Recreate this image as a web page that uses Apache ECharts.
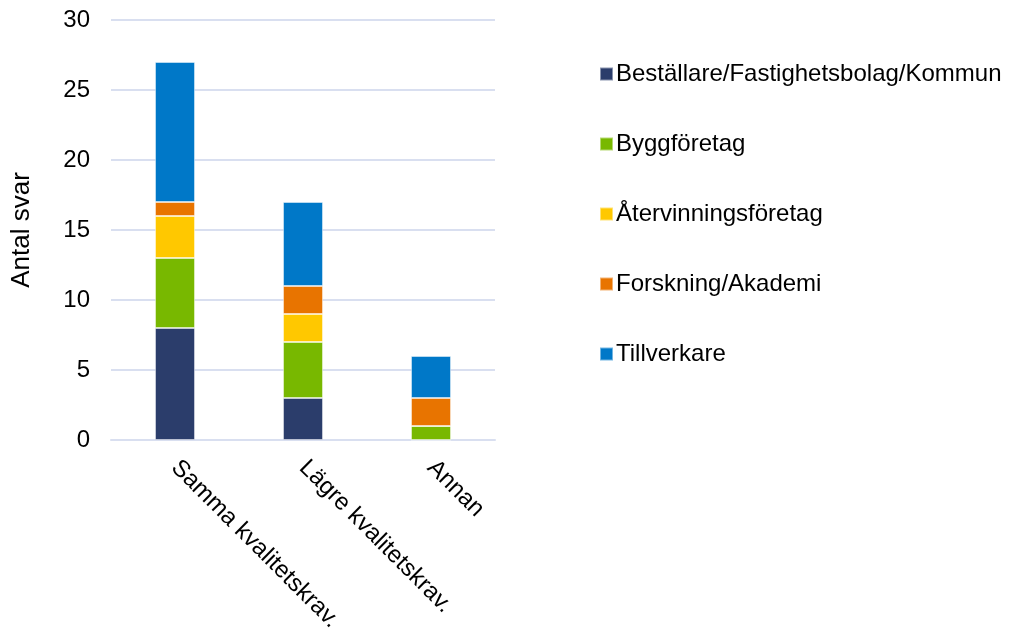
<!DOCTYPE html>
<html>
<head>
<meta charset="utf-8">
<title>Antal svar</title>
<script src="https://cdn.jsdelivr.net/npm/echarts@6/dist/echarts.min.js"></script>
<style>
  html, body { margin: 0; padding: 0; background: #fff; }
  #chart { width: 1009px; height: 632px; }
</style>
</head>
<body>
<div id="chart"></div>
<script>
// Categories on the x axis
const categories = ['Samma kvalitetskrav.', 'Lägre kvalitetskrav.', 'Annan'];

// Respondent groups (stacked, bottom to top)
const bestallare = [8, 3, 0];
const byggforetag = [5, 4, 1];
const atervinning = [3, 2, 0];
const forskning = [1, 2, 2];
const tillverkare = [10, 6, 3];

const seriesNames = [
  'Beställare/Fastighetsbolag/Kommun',
  'Byggföretag',
  'Återvinningsföretag',
  'Forskning/Akademi',
  'Tillverkare'
];
const seriesData = [bestallare, byggforetag, atervinning, forskning, tillverkare];
const colors = ['#2B3D6B', '#78B800', '#FFC800', '#E87400', '#0078C8'];

const font = '"Liberation Sans", Arial, sans-serif';

const chart = echarts.init(document.getElementById('chart'));
chart.setOption({
  animation: false,
  color: colors,
  textStyle: { fontFamily: font, color: '#000' },
  grid: { left: 111, right: 514, top: 20, bottom: 192, containLabel: false, outerBoundsMode: 'none' },
  legend: {
    orient: 'vertical',
    left: 599,
    top: 62,
    padding: 0,
    itemWidth: 13,
    itemHeight: 13,
    itemGap: 46,
    icon: 'rect',
    textStyle: { fontFamily: font, fontSize: 24, color: '#000', lineHeight: 24, padding: [0, 0, 0, -2] },
    data: seriesNames
  },
  xAxis: {
    type: 'category',
    data: categories,
    axisLine: { show: true, lineStyle: { color: '#D9DFF0', width: 2 } },
    axisTick: { show: false },
    axisLabel: { rotate: -45, fontSize: 24, color: '#000', margin: 24, fontFamily: font }
  },
  yAxis: {
    type: 'value',
    min: 0,
    max: 30,
    interval: 5,
    name: 'Antal svar',
    nameLocation: 'middle',
    nameGap: 76,
    nameTextStyle: { fontSize: 26, color: '#000', fontFamily: font },
    axisLine: { show: false },
    axisTick: { show: false },
    axisLabel: { fontSize: 24, color: '#000', margin: 21, fontFamily: font },
    splitLine: { lineStyle: { color: '#D9DFF0', width: 2 } }
  },
  series: seriesNames.map((name, i) => ({
    name: name,
    type: 'bar',
    stack: 'total',
    barWidth: 40,
    data: seriesData[i],
    itemStyle: { borderColor: 'rgba(255,255,255,0.45)', borderWidth: 1 }
  }))
});
</script>
</body>
</html>
